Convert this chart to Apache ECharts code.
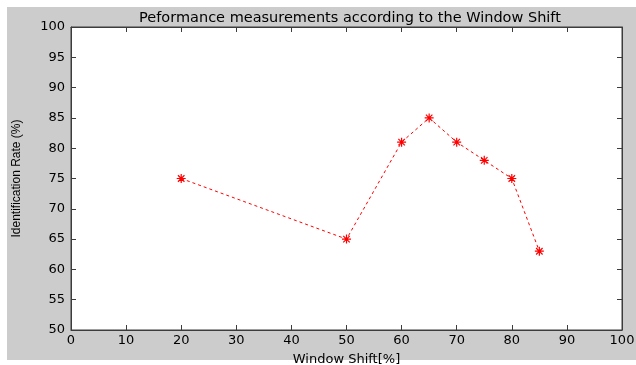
<!DOCTYPE html>
<html>
<head>
<meta charset="utf-8">
<script src="https://cdn.jsdelivr.net/npm/echarts@6/dist/echarts.min.js"></script>
<style>
  html, body { margin: 0; padding: 0; background: #fff; }
  #chart { width: 636px; height: 365px; }
</style>
</head>
<body>
<div id="chart"></div>
<script>
// window shift (%) and identification rate (%)
const windowShift = [20, 50, 60, 65, 70, 75, 80, 85]
const identRate = [75, 65, 81, 85, 81, 78, 75, 63]

const xTicks = { min: 0, max: 100, interval: 10 }
const yTicks = { min: 50, max: 100, interval: 5 }

const wideFont = 'DejaVu Sans, Verdana, sans-serif'
const narrowFont = 'Liberation Sans, Arial, sans-serif'
const axisColor = '#3c3c3c'
const asterisk = 'path://M0,-5L0,5M-5,0L5,0M-3.6,-3.6L3.6,3.6M-3.6,3.6L3.6,-3.6'

const chart = echarts.init(document.getElementById('chart'))

const baseAxis = (extra) => Object.assign({
  type: 'value',
  axisLine: { show: true, onZero: false, lineStyle: { color: axisColor, width: 1 } },
  axisTick: { show: true, inside: true, length: 5, lineStyle: { color: axisColor } },
  splitLine: { show: false },
  axisLabel: { color: '#000', fontFamily: wideFont, fontSize: 13 }
}, extra)

chart.setOption({
  backgroundColor: '#fff',
  animation: false,
  graphic: [{
    type: 'rect',
    z: -10,
    shape: { x: 7, y: 7, width: 629, height: 353 },
    style: { fill: '#cccccc' }
  }],
  title: {
    text: 'Peformance measurements according to the Window Shift',
    left: 345,
    textAlign: 'center',
    top: 6,
    textStyle: { fontFamily: wideFont, fontSize: 14.5, fontWeight: 'normal', color: '#000' }
  },
  grid: {
    left: 71, right: 14, top: 27, bottom: 35,
    outerBoundsMode: 'none',
    containLabel: false,
    show: true, backgroundColor: '#fff', borderColor: axisColor, borderWidth: 1
  },
  xAxis: [
    baseAxis(Object.assign({
      position: 'bottom',
      name: 'Window Shift[%]',
      nameLocation: 'middle',
      nameGap: 23,
      nameTextStyle: { fontFamily: wideFont, fontSize: 13, color: '#000' },
      axisLabel: { color: '#000', fontFamily: wideFont, fontSize: 13, margin: 4 }
    }, xTicks)),
    baseAxis(Object.assign({ position: 'top', axisLabel: { show: false } }, xTicks))
  ],
  yAxis: [
    baseAxis(Object.assign({
      position: 'left',
      name: 'Identification Rate (%)',
      nameLocation: 'middle',
      nameGap: 48,
      nameTextStyle: { fontFamily: narrowFont, fontSize: 12, color: '#000' },
      axisLabel: { color: '#000', fontFamily: wideFont, fontSize: 13, margin: 6 }
    }, yTicks)),
    baseAxis(Object.assign({ position: 'right', axisLabel: { show: false } }, yTicks))
  ],
  series: [{
    type: 'line',
    data: windowShift.map((x, i) => [x, identRate[i]]),
    symbol: asterisk,
    symbolSize: 9,
    lineStyle: { color: '#ff0000', width: 1, type: [3, 3] },
    itemStyle: { color: '#ff0000', borderColor: '#ff0000', borderWidth: 1.2 }
  }]
})
</script>
</body>
</html>
